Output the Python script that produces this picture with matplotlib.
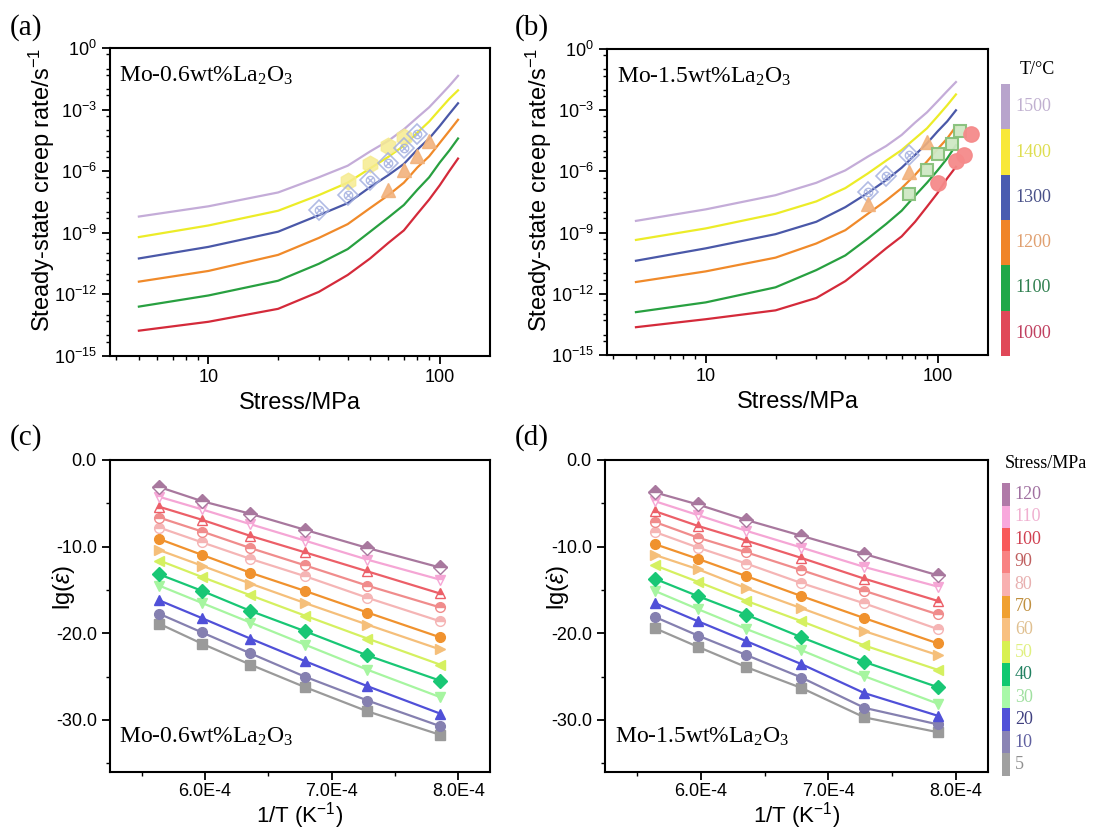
import numpy as np
import matplotlib.pyplot as plt
from matplotlib.ticker import LogLocator, MultipleLocator, NullFormatter, FuncFormatter, FormatStrFormatter

plt.rcParams['font.family'] = ['Liberation Sans', 'DejaVu Sans']
plt.rcParams['mathtext.fontset'] = 'custom'
plt.rcParams['mathtext.rm'] = 'Liberation Sans'
plt.rcParams['mathtext.it'] = 'Liberation Sans:italic'

# stress levels (MPa) and temperatures (C)
stress = [5, 10, 20, 30, 40, 50, 60, 70, 80, 90, 100, 110, 120]
temps = [1500, 1400, 1300, 1200, 1100, 1000]

# ln(creep rate), rows = stress, columns = temperature 1500 -> 1000 C
ln_rate_06 = [
    [-18.9, -21.2, -23.6, -26.2, -29.0, -31.7],
    [-17.75, -19.9, -22.3, -25.0, -27.75, -30.7],
    [-16.2, -18.25, -20.6, -23.2, -26.1, -29.25],
    [-14.5, -16.5, -18.75, -21.3, -24.2, -27.35],
    [-13.2, -15.1, -17.4, -19.75, -22.55, -25.45],
    [-11.6, -13.5, -15.6, -17.95, -20.6, -23.6],
    [-10.4, -12.2, -14.25, -16.5, -19.0, -21.85],
    [-9.12, -10.95, -13.0, -15.1, -17.6, -20.45],
    [-7.8, -9.5, -11.4, -13.4, -15.9, -18.6],
    [-6.65, -8.25, -10.15, -12.15, -14.5, -17.0],
    [-5.4, -6.9, -8.75, -10.65, -12.85, -15.4],
    [-4.25, -5.7, -7.4, -9.3, -11.5, -13.8],
    [-3.12, -4.75, -6.2, -8.05, -10.15, -12.4],
]
ln_rate_15 = [
    [-19.4, -21.55, -23.9, -26.3, -29.7, -31.4],
    [-18.1, -20.25, -22.5, -25.1, -28.6, -30.5],
    [-16.5, -18.6, -20.9, -23.55, -26.9, -29.5],
    [-15.1, -17.2, -19.5, -21.95, -24.95, -28.1],
    [-13.7, -15.7, -17.85, -20.45, -23.3, -26.2],
    [-12.15, -14.05, -16.25, -18.6, -21.4, -24.2],
    [-10.95, -12.6, -14.8, -17.1, -19.75, -22.5],
    [-9.7, -11.4, -13.4, -15.7, -18.25, -21.15],
    [-8.3, -10.1, -11.95, -14.2, -16.55, -19.5],
    [-7.15, -8.95, -10.65, -12.7, -15.1, -17.8],
    [-5.9, -7.6, -9.3, -11.3, -13.7, -16.25],
    [-4.75, -6.35, -8.17, -10.1, -12.35, -14.6],
    [-3.73, -5.13, -6.92, -8.74, -10.85, -13.3],
]

# experimental points: stress (MPa) and log10 of creep rate
exp06_1400_s = [40, 50, 60, 70]
exp06_1400_lg = [-6.49, -5.67, -4.77, -4.33]
exp06_1300_s = [30, 40, 50, 60, 70, 80]
exp06_1300_lg = [-7.89, -7.18, -6.41, -5.62, -4.88, -4.2]
exp06_1200_s = [60, 70, 80, 90]
exp06_1200_lg = [-6.9, -5.92, -5.27, -4.53]

exp15_1300_s = [50, 60, 75]
exp15_1300_lg = [-6.99, -6.22, -5.18]
exp15_1200_s = [50, 75, 90]
exp15_1200_lg = [-7.6, -6.04, -4.54]
exp15_1100_s = [75, 90, 100, 115, 125]
exp15_1100_lg = [-7.09, -5.92, -5.15, -4.65, -4.0]
exp15_1000_s = [100, 120, 130, 140]
exp15_1000_lg = [-6.56, -5.47, -5.18, -4.16]

temp_colors = ['#c4acd8', '#ecec28', '#4a58a8', '#f08a2a', '#28a040', '#d42a3a']
temp_bar_colors = ['#b8a4cc', '#f8e838', '#4a5cb0', '#f08428', '#20a848', '#e04858']
temp_text_colors = ['#c0b0d0', '#dede50', '#485088', '#e0a070', '#308050', '#c04060']

stress_colors = ['#9a9a9a', '#8580b0', '#5050d8', '#a6f5a0', '#19c775', '#d5f060', '#f5bf7a',
                 '#f0922e', '#f5b5b5', '#f08c8c', '#ec5f68', '#f5a6d5', '#a8789e']
stress_markers = ['s', 'o', '^', 'v', 'D', '<', '>', 'o', 'o', 'o', '^', 'v', 'D']
stress_bar_colors = ['#a0a0a0', '#8a84b4', '#5050d8', '#a8f8a8', '#10c870', '#d8f050', '#f8c080',
                     '#f0a030', '#f8b0b0', '#f88282', '#f85a5a', '#f8a8dc', '#b07aa8']
stress_text_colors = ['#909090', '#6060a0', '#404080', '#a0e0a0', '#208060', '#e0f080', '#e0c090',
                      '#c09040', '#e8b0b0', '#c06060', '#d04050', '#f0b0d0', '#a070a0']

W, H = 1093, 832
fig = plt.figure(figsize=(W / 100, H / 100), dpi=100)


def box(l, t, r, b):
    return [l / W, 1 - b / H, (r - l) / W, (b - t) / H]


def style_axes(ax):
    for sp in ax.spines.values():
        sp.set_linewidth(1.5)
    ax.tick_params(which='major', direction='out', length=6, width=1.3, labelsize=13)
    ax.tick_params(which='minor', direction='out', length=3, width=1.0)


serif = ['Liberation Serif', 'DejaVu Serif']
alloy_06 = 'Mo-0.6wt%La$_{\\mathregular{2}}$O$_{\\mathregular{3}}$'
alloy_15 = 'Mo-1.5wt%La$_{\\mathregular{2}}$O$_{\\mathregular{3}}$'


def rate_panel(ax, ln_rate, label):
    ln_rate = np.array(ln_rate)
    for j, t in enumerate(temps):
        ax.plot(stress, np.exp(ln_rate[:, j]), color=temp_colors[j], lw=1.6, zorder=2)
    ax.set_xscale('log')
    ax.set_yscale('log')
    ax.set_xlim(3.75, 165)
    ax.set_ylim(1e-15, 1)
    ax.yaxis.set_major_locator(LogLocator(base=1000, numticks=10))
    ax.yaxis.set_minor_locator(LogLocator(base=10, subs=(1.0, 5.0), numticks=40))
    ax.yaxis.set_minor_formatter(NullFormatter())
    ax.xaxis.set_major_formatter(FuncFormatter(lambda v, p: f'{v:g}'))
    ax.xaxis.set_minor_formatter(NullFormatter())
    ax.set_xlabel('Stress/MPa', fontsize=17, labelpad=4)
    ax.set_ylabel('Steady-state creep rate/s$^{\\mathregular{-1}}$', fontsize=17)
    ax.yaxis.set_label_coords(-0.14, 0.54)
    ax.text(0.025, 0.91, label, transform=ax.transAxes, family=serif, fontsize=17, va='center')
    style_axes(ax)


def crossed(ax, s, lg):
    r = 10.0 ** np.array(lg)
    kw = dict(ls='none', mfc='none', mec='#a4b0e0', alpha=0.85, zorder=3)
    ax.plot(s, r, marker='D', ms=10, mew=1.2, **kw)
    ax.plot(s, r, marker='o', ms=6, mew=1.0, **kw)
    ax.plot(s, r, marker='x', ms=5, mew=1.0, **kw)


ax_a = fig.add_axes(box(110, 48, 490, 356))
rate_panel(ax_a, ln_rate_06, alloy_06)
ax_a.plot(exp06_1400_s, 10.0 ** np.array(exp06_1400_lg), 'h', ms=12, color='#f6eb90', alpha=0.85, zorder=3)
crossed(ax_a, exp06_1300_s, exp06_1300_lg)
ax_a.plot(exp06_1200_s, 10.0 ** np.array(exp06_1200_lg), '^', ms=10, color='#f2b27c', alpha=0.9, zorder=3)

ax_b = fig.add_axes(box(607, 49, 988, 355))
rate_panel(ax_b, ln_rate_15, alloy_15)
crossed(ax_b, exp15_1300_s, exp15_1300_lg)
ax_b.plot(exp15_1200_s, 10.0 ** np.array(exp15_1200_lg), '^', ms=10, color='#f2b27c', alpha=0.9, zorder=3)
ax_b.plot(exp15_1100_s, 10.0 ** np.array(exp15_1100_lg), 's', ms=9, mfc='#cfe8c4', mec='#86c07a',
          mew=1.5, alpha=0.95, zorder=3)
ax_b.plot(exp15_1000_s, 10.0 ** np.array(exp15_1000_lg), 'o', ms=11, color='#f58a8a', alpha=0.95,
          zorder=3, clip_on=False)


def arrhenius_panel(ax, ln_rate, label):
    ln_rate = np.array(ln_rate)
    inv_T = 1.0 / (np.array(temps) + 273.15)
    for i, s in enumerate(stress):
        c = stress_colors[i]
        kw = dict(color=c, marker=stress_markers[i], ms=7, lw=1.6, mec=c, mfc=c)
        if s >= 80:
            kw.update(fillstyle='top', markerfacecoloralt='white')
        ax.plot(inv_T, ln_rate[i], **kw)
    ax.set_xlim(5.25e-4, 8.25e-4)
    ax.set_ylim(-36, 0)
    ax.xaxis.set_major_locator(MultipleLocator(1e-4))
    ax.xaxis.set_minor_locator(MultipleLocator(0.5e-4))
    ax.xaxis.set_major_formatter(FuncFormatter(lambda v, p: f'{v * 1e4:.1f}E-4'))
    ax.yaxis.set_major_locator(MultipleLocator(10))
    ax.yaxis.set_minor_locator(MultipleLocator(5))
    ax.yaxis.set_major_formatter(FormatStrFormatter('%.1f'))
    ax.set_xlabel('1/T (K$^{\\mathregular{-1}}$)', fontsize=16, labelpad=0)
    ax.set_ylabel('lg($\\dot{\\varepsilon}$)', fontsize=17)
    ax.yaxis.set_label_coords(-0.085, 0.59)
    ax.text(0.025, 0.115, label, transform=ax.transAxes, family=serif, fontsize=17, va='center')
    style_axes(ax)
    ax.tick_params(axis='x', which='major', pad=2)


ax_c = fig.add_axes(box(110, 460, 490, 772))
arrhenius_panel(ax_c, ln_rate_06, alloy_06)
ax_d = fig.add_axes(box(605, 460, 988, 772))
arrhenius_panel(ax_d, ln_rate_15, alloy_15)

# panel letters
for x, y, t in [(10, 28, '(a)'), (515, 28, '(b)'), (10, 438, '(c)'), (515, 438, '(d)')]:
    fig.text(x / W, 1 - y / H, t, family=serif, fontsize=21, va='center')

# temperature colour key
cax1 = fig.add_axes(box(1001, 84, 1010, 356))
temp_up = temps[::-1]
for k, t in enumerate(temp_up):
    j = temps.index(t)
    cax1.bar(0, 1, bottom=k, width=1, color=temp_bar_colors[j])
    cax1.text(1.6, k + 0.5, str(t), transform=cax1.get_yaxis_transform(), family=serif,
              fontsize=13, color=temp_text_colors[j], va='center')
cax1.set_xlim(-0.5, 0.5)
cax1.set_ylim(0, len(temps))
cax1.axis('off')
fig.text(1020 / W, 1 - 70 / H, 'T/°C', family=serif, fontsize=13, va='center')

# stress colour key
cax2 = fig.add_axes(box(1002, 483, 1010, 776))
for i, s in enumerate(stress):
    cax2.bar(0, 1, bottom=i, width=1, color=stress_bar_colors[i])
    cax2.text(1.6, i + 0.5, str(s), transform=cax2.get_yaxis_transform(), family=serif,
              fontsize=13, color=stress_text_colors[i], va='center')
cax2.set_xlim(-0.5, 0.5)
cax2.set_ylim(0, len(stress))
cax2.axis('off')
fig.text(1046 / W, 1 - 463 / H, 'Stress/MPa', family=serif, fontsize=13, va='center', ha='center')

fig.savefig('out.png', dpi=100)
